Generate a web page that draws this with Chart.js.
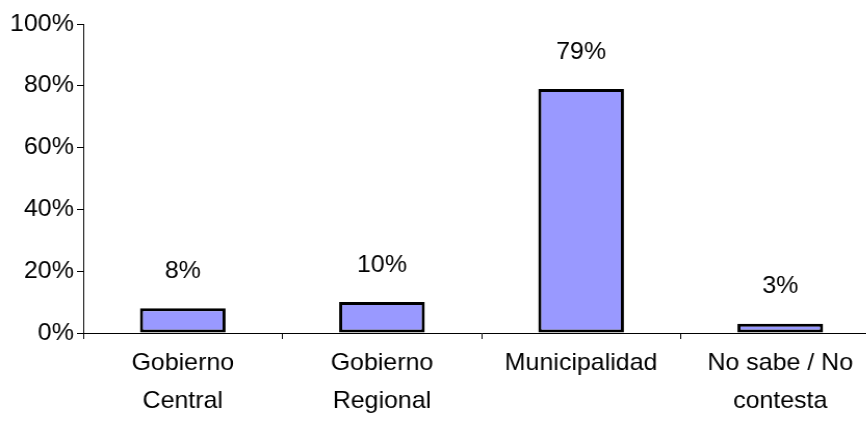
<!DOCTYPE html>
<html>
<head>
<meta charset="utf-8">
<script src="https://cdn.jsdelivr.net/npm/chart.js@4/dist/chart.umd.min.js"></script>
<style>
  html, body { margin: 0; padding: 0; background: #fff; overflow: hidden; width: 866px; height: 430px; }
  /* the reference is slightly stretched horizontally */
  #wrap { width: 846px; height: 430px; transform: scaleX(1.04); transform-origin: 0 0; }
</style>
</head>
<body>
<div id="wrap"><canvas id="barChart" width="846" height="430"></canvas></div>
<script>
const categories = [['Gobierno', 'Central'], ['Gobierno', 'Regional'], 'Municipalidad', ['No sabe / No', 'contesta']];
const values = [8, 10, 79, 3];
const yTicks = [0, 20, 40, 60, 80, 100];

const font = { family: 'Liberation Sans, Arial, sans-serif', size: 24 };

// draws the % labels above each bar
const valueLabels = {
  id: 'valueLabels',
  afterDatasetsDraw(chart) {
    const c = chart.ctx;
    const meta = chart.getDatasetMeta(0);
    c.save();
    c.font = font.size + 'px ' + font.family;
    c.fillStyle = '#000';
    c.textAlign = 'center';
    c.textBaseline = 'middle';
    meta.data.forEach((bar, i) => {
      c.fillText(Math.round(values[i]) + '%', bar.x, bar.y - 37);
    });
    c.restore();
  }
};

const config = {
  type: 'bar',
  data: {
    labels: categories,
    datasets: [{
      data: values,
      backgroundColor: '#9999FF',
      borderColor: '#000',
      borderWidth: 3,
      borderSkipped: false,
      categoryPercentage: 1,
      barPercentage: 0.43
    }]
  },
  options: {
    responsive: false,
    animation: false,
    layout: { padding: { top: 24, left: 0, right: 0, bottom: 0 } },
    plugins: { legend: { display: false }, tooltip: { enabled: false } },
    scales: {
      x: {
        grid: { drawOnChartArea: false, offset: true, tickLength: 6, color: '#000' },
        border: { color: '#000', width: 1 },
        ticks: { color: '#000', font: { ...font, lineHeight: 1.58 }, padding: 5, maxRotation: 0, autoSkip: false },
        afterFit(scale) { scale.height = 97; }
      },
      y: {
        min: yTicks[0],
        max: yTicks[yTicks.length - 1],
        grid: { drawOnChartArea: false, tickLength: 6, color: '#000' },
        border: { color: '#000', width: 1 },
        ticks: { color: '#000', font: font, padding: 3, stepSize: 20, callback: v => v + '%' },
        afterFit(scale) { scale.width = 80; }
      }
    }
  },
  plugins: [valueLabels]
};

document.addEventListener('DOMContentLoaded', () => {
  const ctx = document.getElementById('barChart').getContext('2d');
  new Chart(ctx, config);
});
</script>
</body>
</html>
